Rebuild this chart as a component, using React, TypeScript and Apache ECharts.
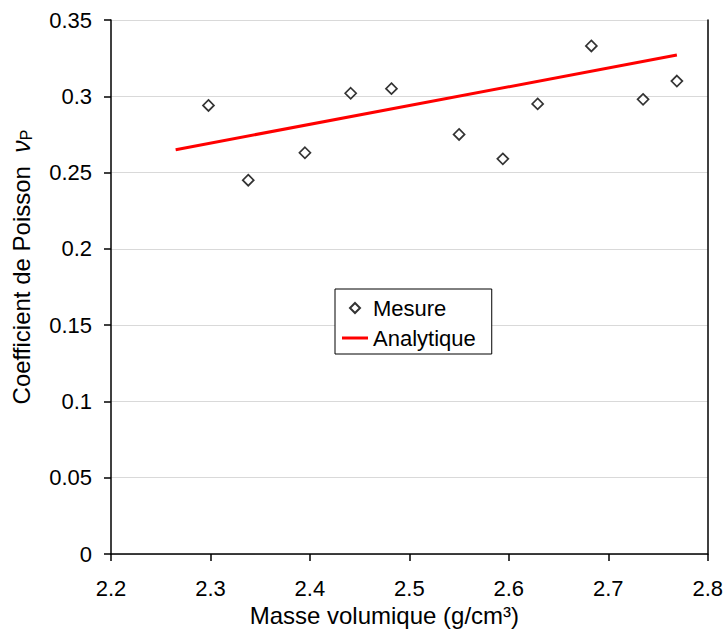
import React, { useEffect, useRef } from "react";
import * as echarts from "echarts";

const mesureX = [2.298, 2.338, 2.395, 2.441, 2.482, 2.55, 2.594, 2.629, 2.683, 2.735, 2.769];
const mesureY = [0.294, 0.245, 0.263, 0.302, 0.305, 0.275, 0.259, 0.295, 0.333, 0.298, 0.31];
const analytiqueX = [2.265, 2.769];
const analytiqueY = [0.265, 0.327];
const xTicks = { min: 2.2, max: 2.8, interval: 0.1 };
const yTicks = { min: 0, max: 0.35, interval: 0.05 };

const FONT = "Liberation Sans, Arial, sans-serif";
const FS = 22;
const TFS = 24;

export default function App() {
  const ref = useRef<HTMLDivElement>(null);
  useEffect(() => {
    if (!ref.current) return;
    const chart = echarts.init(ref.current, undefined, { renderer: "svg" });
    chart.setOption({
      animation: false,
      backgroundColor: "#fff",
      textStyle: { fontFamily: FONT },
      grid: { left: 111, right: 18, top: 20, bottom: 81 },
      legend: {
        left: 335,
        top: 289,
        orient: "vertical",
        backgroundColor: "#fff",
        borderColor: "#000",
        borderWidth: 1,
        borderRadius: 0,
        padding: [8, 16, 5, 7],
        itemWidth: 26,
        itemHeight: 10,
        itemGap: 8,
        symbolKeepAspect: true,
        textStyle: { fontFamily: FONT, fontSize: FS, color: "#000", lineHeight: 22 },
        data: [
          { name: "Mesure", icon: "path://M5,0L10,5L5,10L0,5Z" },
          { name: "Analytique", icon: "path://M0,0L26,0L26,3L0,3Z" },
        ],
      },
      xAxis: {
        type: "value",
        min: xTicks.min,
        max: xTicks.max,
        interval: xTicks.interval,
        name: "Masse volumique (g/cm³)",
        nameLocation: "middle",
        nameGap: 48,
        nameTextStyle: { fontFamily: FONT, fontSize: TFS, color: "#000", padding: [0, 50, 0, 0] },
        axisLine: { lineStyle: { color: "#000", width: 1.5 } },
        axisTick: { show: true, length: 7, inside: false, lineStyle: { color: "#000", width: 1.5 } },
        axisLabel: { margin: 23, fontFamily: FONT, fontSize: FS, color: "#000", formatter: (v: number) => String(+v.toFixed(1)) },
        splitLine: { show: false },
      },
      yAxis: [
        {
          type: "value",
          min: yTicks.min,
          max: yTicks.max,
          interval: yTicks.interval,
          name: "Coefficient de Poisson  {nu|ν}{sub|P}",
          nameLocation: "middle",
          nameGap: 77,
          nameTextStyle: {
            fontFamily: FONT,
            fontSize: TFS,
            color: "#000",
            padding: [0, 0, 0, 40],
            rich: {
              nu: { fontFamily: FONT, fontSize: 25, fontStyle: "italic", color: "#000" },
              sub: { fontFamily: FONT, fontSize: 16, color: "#000", verticalAlign: "bottom", padding: [10, 0, 0, 0] },
            },
          },
          axisLine: { show: true, lineStyle: { color: "#000", width: 1.5 } },
          axisTick: { show: true, length: 7, inside: false, lineStyle: { color: "#000", width: 1.5 } },
          axisLabel: { margin: 19, fontFamily: FONT, fontSize: FS, color: "#000", formatter: (v: number) => String(+v.toFixed(2)) },
          splitLine: { show: true, lineStyle: { color: "#d9d9d9", width: 1 } },
        },
        {
          type: "value",
          position: "right",
          min: yTicks.min,
          max: yTicks.max,
          interval: yTicks.interval,
          axisLine: { show: true, lineStyle: { color: "#000", width: 1.5 } },
          axisTick: { show: false },
          axisLabel: { show: false },
          splitLine: { show: false },
        },
      ],
      series: [
        {
          name: "Mesure",
          type: "scatter",
          symbol: "diamond",
          symbolSize: 11,
          itemStyle: { color: "#fff", borderColor: "#000", borderWidth: 1.7 },
          data: mesureX.map((x, i) => [x, mesureY[i]]),
          z: 3,
        },
        {
          name: "Analytique",
          type: "line",
          showSymbol: false,
          symbol: "none",
          lineStyle: { color: "#ff0000", width: 3 },
          itemStyle: { color: "#ff0000" },
          data: analytiqueX.map((x, i) => [x, analytiqueY[i]]),
          z: 2,
        },
      ],
    });
    return () => chart.dispose();
  }, []);
  return <div ref={ref} style={{ width: 726, height: 635, position: "absolute", left: 0, top: 0 }} />;
}
